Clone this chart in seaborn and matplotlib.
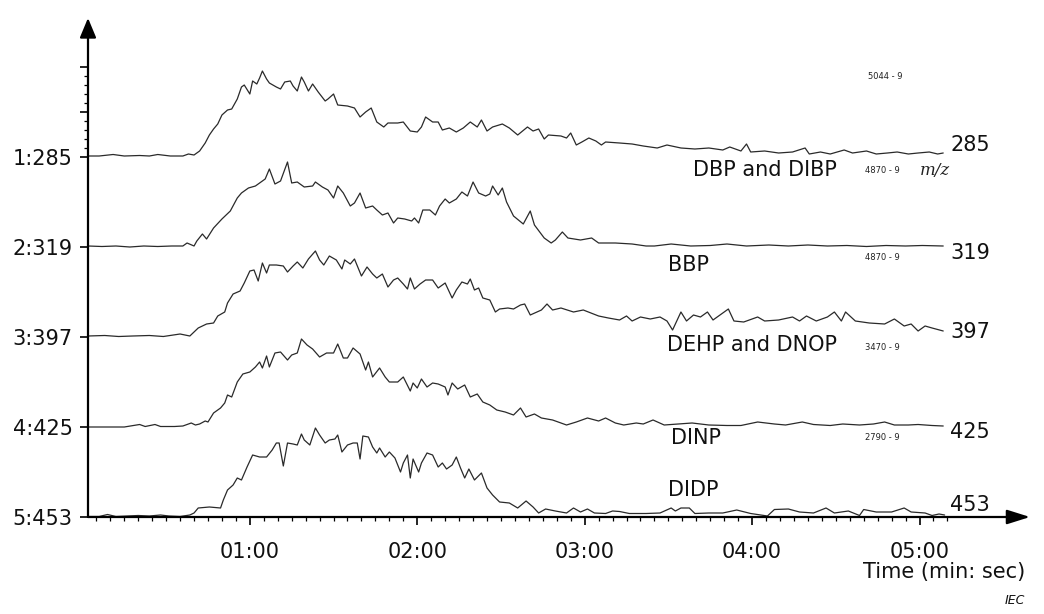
import matplotlib
matplotlib.use("Agg")
import matplotlib.pyplot as plt
import seaborn as sns
import pandas as pd

# retention time (s) and ion signal (relative units) for each mass trace
t_dbp = [2, 6, 11, 15, 20.5, 24, 27, 31.5, 36, 38, 40, 42, 44, 45.5, 47, 48.5, 50, 52, 53.5, 55.5, 57, 58,
         60, 61, 62.5, 63.5, 64.5, 66, 67, 69.5, 71, 72.5, 74.5, 75.5, 77, 78.5, 79.5, 81, 82.5, 84.5, 87, 88,
         90, 91.5, 95, 97.5, 99.5, 101.5, 103.5, 105.5, 108, 109.5, 113, 115, 117.5, 120, 121.5, 123, 125.5,
         127.5, 129, 131.5, 134, 136.5, 139, 141.5, 143, 145, 147, 150.5, 153, 156, 159.5, 161.5, 163.5, 165.5,
         167, 171.5, 173.5, 175, 177, 179, 181.5, 184, 186, 187.5, 192.5, 197, 201, 206, 209.5, 214.5, 219.5,
         224.5, 229.5, 232, 236, 238, 239.5, 244.5, 249.5, 254.5, 259, 260.5, 264.5, 268, 273, 276, 281, 284.5,
         288.5, 292, 296, 299.5, 303.5, 306.5, 308.5]
h_dbp = [1, 1, 2.5, 1, 1.5, 1, 2.5, 1, 1, 3, 2, 6, 14, 22, 28, 33, 42, 47, 48, 58, 70, 72,
         63, 76, 73, 79, 86, 78, 74, 70, 68, 75, 76, 71, 66, 80, 75, 66, 73, 65, 56, 58,
         63, 52, 51, 49, 40, 45, 49, 35, 30, 34, 34, 35, 26, 25, 30, 40, 35,
         35, 27, 29, 25, 29, 35, 30, 37, 26, 30, 33, 29, 22, 30, 26, 28, 18,
         22, 21, 19, 24, 12, 15, 19, 16, 12, 15, 14, 13, 11, 9, 12, 9, 8,
         9, 7, 10, 6, 13, 5, 6, 4, 5, 9, 3, 5, 3, 7, 4, 6, 3,
         4, 5, 3, 4, 5, 3, 4]

t_bbp = [2, 7, 12, 17, 22, 27, 32, 36, 37.5, 40, 41, 43, 44.5, 47, 50, 53, 55.5, 57, 59.5, 62, 64.5, 65.5,
         67, 69, 71, 73.5, 75, 77, 79.5, 82.5, 83.5, 86, 88, 90, 91.5, 93.5, 96, 97.5, 99.5, 101.5, 104, 105.5,
         107.5, 109.5, 111.5, 113, 115.5, 118, 119, 120.5, 122, 124.5, 126.5, 128, 130, 131.5, 134, 136, 138,
         140, 142, 144.5, 146, 147, 149, 150.5, 152, 154.5, 158, 160.5, 162, 165.5, 168, 169.5, 172, 174, 178.5,
         182.5, 185, 191, 197, 202, 205, 211, 218, 225, 231, 238, 246, 253, 260, 267, 274, 281, 288, 295, 301,
         308.5]
h_bbp = [1, 0.5, 1, 0, 1, 0.5, 1, 1, 4, 1, 6, 13, 8, 19, 28, 36, 49, 54, 59, 61, 66, 68,
         78, 63, 66, 85, 64, 65, 60, 61, 65, 60, 57, 49, 61, 54, 41, 44, 54, 39, 41, 37,
         32, 34, 24, 29, 28, 26, 29, 24, 37, 37, 32, 41, 48, 44, 48, 55, 51,
         65, 54, 51, 53, 61, 52, 59, 45, 31, 23, 36, 22, 9, 4, 7, 15, 9, 7,
         9, 4, 4, 3, 1, 1, 3, 1, 1.5, 3, 1, 2, 1, 2, 1, 1.5, 0.5, 1.5, 1, 1.5,
         1]

t_dehp = [2, 8, 13, 18, 24, 29, 35, 38.5, 41.5, 44.5, 47, 48.5, 51, 52, 54, 56.5, 58, 60, 61.5, 63, 64.5,
          66, 67, 69.5, 72, 73.5, 75.5, 77, 79, 81, 83.5, 85, 86.5, 88.5, 91, 93, 94, 96, 97.5, 100, 102, 104,
          105.5, 107.5, 109.5, 111.5, 113, 115, 116.5, 117.5, 119, 121, 123, 125.5, 127.5, 130, 132.5, 134, 136,
          138, 139, 140.5, 142, 143.5, 146, 148, 149.5, 152.5, 154.5, 157, 158.5, 160.5, 164.5, 166.5, 168.5,
          171.5, 176, 179.5, 185, 188.5, 192.5, 195, 197, 200, 203.5, 207, 209.5, 211.5, 214.5, 216.5, 219, 221.5,
          224, 226, 231.5, 233.5, 237, 242, 244.5, 249.5, 254.5, 257, 259.5, 263, 267, 269.5, 272, 273.5, 277,
          282, 287.5, 291, 294.5, 297, 299.5, 302, 304.5, 308.5]
h_dehp = [1, 1.5, 0.5, 1, 1.5, 0.5, 3, 1, 9, 13, 14, 21, 25, 34, 43, 46, 54, 66, 67, 56, 74,
          64, 72, 72, 71, 65, 71, 75, 69, 78, 86, 77, 72, 81, 77, 68, 77, 73, 78, 61, 70, 63,
          59, 63, 50, 57, 59, 53, 48, 59, 48, 53, 57, 57, 49, 54, 39, 47, 55,
          53, 58, 47, 49, 39, 37, 25, 28, 29, 28, 32, 33, 22, 27, 33, 27,
          29, 25, 27, 21, 19, 17, 21, 16, 20, 18, 20, 16, 7, 25, 16, 22, 20,
          25, 17, 28, 16, 15, 20, 16, 17, 20, 16, 21, 16, 20, 25, 16, 25, 16,
          14, 13, 18, 11, 13, 6, 11, 9, 6]

t_dinp = [2, 15, 20.5, 22.5, 26, 28, 33, 36, 39, 40.5, 42, 44, 45, 47, 49.5, 51, 52, 53.5, 55.5, 57.5, 60,
          62, 63.5, 64.5, 66, 67, 69, 71, 73.5, 75, 77, 78.5, 80.5, 82.5, 85, 87.5, 90, 91.5, 93.5, 95, 97,
          99.5, 101.5, 102.5, 104, 106.5, 108.5, 110, 113, 115, 117.5, 118.5, 120, 121.5, 123.5, 125.5, 127.5,
          130, 131, 132.5, 134.5, 137, 139, 141.5, 143.5, 146, 148.5, 151.5, 154.5, 157, 159, 162, 164.5, 168.5,
          173.5, 177, 181, 185, 187.5, 191, 194, 198.5, 201, 204.5, 208.5, 213.5, 218.5, 224.5, 231, 236, 242,
          248, 252, 258, 262, 268, 272.5, 278.5, 283.5, 287.5, 291, 296, 299.5, 304.5, 308.5]
h_dinp = [0, 0, 2.5, 0.5, 2.5, 0.5, 0.5, 1, 4, 2, 3, 6, 5, 14, 19, 24, 32, 30, 45, 53, 55,
          60, 65, 59, 71, 60, 74, 75, 67, 72, 74, 88, 82, 78, 70, 74, 74, 83, 69, 69, 79,
          73, 57, 65, 50, 59, 50, 45, 45, 50, 36, 44, 39, 48, 40, 44, 43,
          40, 32, 44, 38, 42, 30, 33, 25, 22, 17, 15, 12, 19, 10, 13, 9, 7,
          2, 5, 9, 6, 9, 4, 2, 4, 3, 7, 2, 3, 4, 2, 1.5, 1.5, 5,
          3, 2, 5, 2.5, 1.5, 3, 2, 3, 5, 2, 2, 2.5, 1.5, 1]

t_didp = [2, 6, 9, 12, 16, 20, 24, 28, 31, 35, 38.5, 40, 41.5, 45.5, 49.5, 50.5, 52, 54, 55.5, 57, 59,
          61, 63.5, 66, 68, 69.5, 70.5, 72, 73.5, 75.5, 77, 78.5, 79.5, 81.5, 83.5, 85, 87, 88.5, 90.5, 91.5,
          93, 95, 97, 98.5, 99.5, 100.5, 102.5, 104, 105.5, 106.5, 108.5, 110, 112, 114, 115, 116.5, 117.5,
          118.5, 120.5, 121.5, 123.5, 125.5, 127.5, 129, 130.5, 132.5, 134, 135.5, 137, 138.5, 140.5, 143, 145,
          147, 149.5, 153, 156, 159, 161.5, 163.5, 166, 169.5, 173.5, 176, 178.5, 181, 183.5, 187.5, 190, 192.5,
          196, 202, 207, 211, 212.5, 214.5, 217.5, 219.5, 224.5, 229.5, 234.5, 239.5, 245.5, 248, 253, 257, 262,
          266.5, 269.5, 274.5, 278.5, 280, 284.5, 290, 294.5, 297, 302, 304.5, 307, 309]
h_didp = [0.5, 0.5, 2.5, 0.5, 1, 1.5, 1, 2, 1, 0.5, 2, 4, 9, 10, 9, 17, 27, 32, 39, 37, 50,
          62, 60, 60, 67, 74, 74, 51, 74, 73, 72, 83, 77, 72, 89, 82, 74, 77, 78, 82,
          65, 72, 74, 74, 58, 81, 80, 70, 64, 69, 60, 65, 59, 45, 54, 62, 39,
          58, 45, 54, 64, 62, 50, 54, 48, 52, 60, 49, 39, 48, 37, 44, 29,
          22, 15, 14, 9, 16, 10, 4, 8, 6, 4, 9, 5, 8, 4, 3.5, 6, 5.5,
          3.5, 3.5, 4, 9, 6, 9, 9, 3.5, 4, 4, 7, 3.5, 1, 7.5, 8, 5, 4,
          9, 4, 6, 1.5, 7.5, 5, 5, 9, 5, 4, 1.5, 3, 2]

traces = [t_dbp, t_bbp, t_dehp, t_dinp, t_didp]
signals = [h_dbp, h_bbp, h_dehp, h_dinp, h_didp]
channel_labels = ["1:285", "2:319", "3:397", "4:425", "5:453"]
mz_labels = ["285", "319", "397", "425", "453"]
compounds = ["DBP and DIBP", "BBP", "DEHP and DNOP", "DINP", "DIDP"]
scale_notes = ["4870 - 9", "4870 - 9", "3470 - 9", "2790 - 9", ""]
time_ticks = [60, 120, 180, 240, 300]
time_labels = ["01:00", "02:00", "03:00", "04:00", "05:00"]

offsets = [360, 270, 180, 90, 0]

rows = []
for k in range(5):
    for t, h in zip(traces[k], signals[k]):
        rows.append({"time": t, "level": offsets[k] + h, "trace": channel_labels[k]})
df = pd.DataFrame(rows)

sns.set_style("white")
plt.rcParams["font.family"] = ["DejaVu Sans"]

fig = plt.figure(figsize=(10.44, 6.14), dpi=100)
ax = fig.add_axes([88 / 1044, 97 / 614, (1030 - 88) / 1044, (517 - 18) / 614])

sns.lineplot(data=df, x="time", y="level", units="trace", estimator=None,
             color="#2a2a2a", lw=0.9, ax=ax, legend=False)

ax.set_xlim(2, 339.6)
ax.set_ylim(0, 499)
for s in ax.spines.values():
    s.set_visible(False)

# axes as arrows
ax.annotate("", xy=(0, 1), xytext=(0, 0), xycoords="axes fraction",
            arrowprops=dict(arrowstyle="-|>,head_length=0.6,head_width=0.25", mutation_scale=20,
                            lw=1.6, color="black", shrinkA=0, shrinkB=0), annotation_clip=False)
ax.annotate("", xy=(1, 0), xytext=(0, 0), xycoords="axes fraction",
            arrowprops=dict(arrowstyle="-|>,head_length=0.7,head_width=0.22", mutation_scale=20,
                            lw=1.6, color="black", shrinkA=0, shrinkB=0), annotation_clip=False)

ax.set_xticks(time_ticks)
ax.set_xticklabels(time_labels, fontsize=15)
ax.set_xticks(list(range(5, 311, 5)), minor=True)
yt = offsets + [405, 450]
ax.set_yticks(yt)
ax.set_yticklabels(channel_labels + ["", ""], fontsize=15)
ax.set_yticks([360 + 9 * i for i in range(1, 11) if i not in (5, 10)], minor=True)
ax.tick_params(axis="both", which="major", direction="out", length=6, width=1.2, color="black",
               labelcolor="#111111", left=True, bottom=True)
ax.tick_params(axis="x", which="major", pad=12)
ax.tick_params(axis="y", which="major", pad=5)
ax.tick_params(axis="both", which="minor", direction="out", length=3, width=0.9, color="black",
               left=True, bottom=True)
ax.set_xlabel("")
ax.set_ylabel("")

# labels of the traces
mz_y = [372, 264, 185, 85, 12]
name_pos = [(219, 347), (210, 252), (209.5, 172), (211, 79), (210, 27)]
note_y = [347, 260, 170, 80]
for k in range(5):
    ax.text(311, mz_y[k], mz_labels[k], fontsize=15, va="center", ha="left", color="#111111")
    ax.text(name_pos[k][0], name_pos[k][1], compounds[k], fontsize=15, va="center", ha="left",
            color="#111111")
for k in range(4):
    ax.text(280.5, note_y[k], scale_notes[k], fontsize=6, va="center", ha="left", color="#222222")
ax.text(281.5, 441, "5044 - 9", fontsize=6, va="center", ha="left", color="#222222")
ax.text(300, 347, "m/z", fontsize=12, va="center", ha="left", family="DejaVu Serif",
        style="italic", color="#222222")

fig.text(1025 / 1044, 1 - 572 / 614, "Time (min: sec)", fontsize=15, ha="right", va="center",
         color="#111111")
fig.text(1025 / 1044, 1 - 600 / 614, "IEC", fontsize=9, ha="right", va="center", style="italic",
         color="#111111")

fig.savefig("out.png", dpi=100)
